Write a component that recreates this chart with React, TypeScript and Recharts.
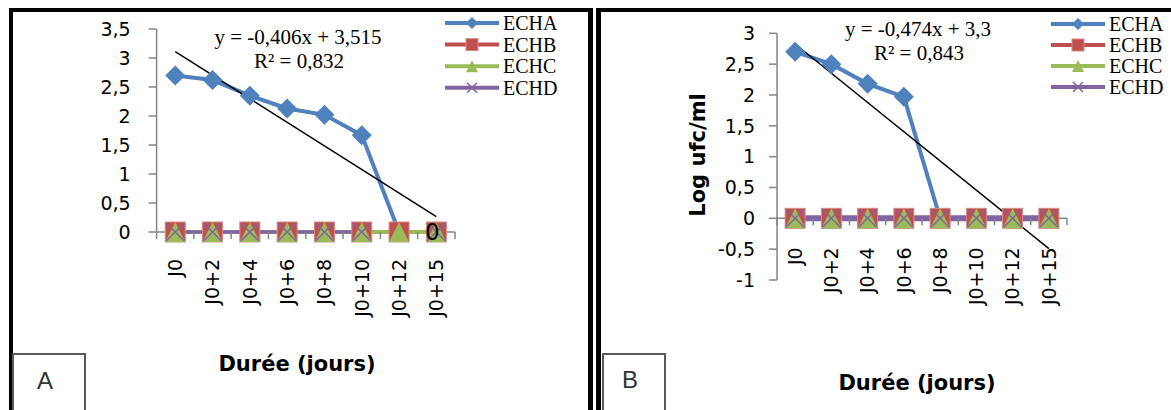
import { LineChart, Line, XAxis, YAxis, ReferenceLine } from 'recharts';

const categories = ['J0', 'J0+2', 'J0+4', 'J0+6', 'J0+8', 'J0+10', 'J0+12', 'J0+15'];
const seriesNames = ['ECHA', 'ECHB', 'ECHC', 'ECHD'];

// panel A
const echaA = [2.7, 2.62, 2.35, 2.13, 2.02, 1.67, 0, 0];
const echbA = [0, 0, 0, 0, 0, 0, 0, 0];
const echcA = [0, 0, 0, 0, 0, 0, 0, 0];
const echdA: (number | null)[] = [0, 0, 0, 0, 0, 0, null, 0];
const trendA = { slope: -0.406, intercept: 3.515, r2: 0.832 };
const yTicksA = [0, 0.5, 1, 1.5, 2, 2.5, 3, 3.5];

// panel B
const echaB = [2.7, 2.5, 2.18, 1.97, 0, 0, 0, 0];
const echbB = [0, 0, 0, 0, 0, 0, 0, 0];
const echcB = [0, 0, 0, 0, 0, 0, 0, 0];
const echdB = [0, 0, 0, 0, 0, 0, 0, 0];
const trendB = { slope: -0.474, intercept: 3.3, r2: 0.843 };
const yTicksB = [-1, -0.5, 0, 0.5, 1, 1.5, 2, 2.5, 3];

const COLORS: Record<string, string> = {
  ECHA: '#4F81BD',
  ECHB: '#C0504D',
  ECHC: '#9BBB59',
  ECHD: '#8064A2',
};
const AXIS = '#868686';
const SANS = '"DejaVu Sans", sans-serif';
const SERIF = '"Liberation Serif", "Times New Roman", serif';

const toRows = (a: number[], b: number[], c: number[], d: (number | null)[]) =>
  categories.map((cat, i) => ({ cat, ECHA: a[i], ECHB: b[i], ECHC: c[i], ECHD: d[i] }));

const dataA = toRows(echaA, echbA, echcA, echdA);
const dataB = toRows(echaB, echbB, echcB, echdB);

const fmt = (v: number) => String(v).replace('.', ',');

// markers
const marker = (name: string, cx: number, cy: number, s: number, key?: string) => {
  const color = COLORS[name];
  if (name === 'ECHA')
    return <polygon key={key} points={`${cx},${cy - s} ${cx + s},${cy} ${cx},${cy + s} ${cx - s},${cy}`} fill={color} />;
  if (name === 'ECHB')
    return <rect key={key} x={cx - s} y={cy - s} width={s * 2} height={s * 2} fill={color} stroke="#d48a88" strokeWidth={1} />;
  if (name === 'ECHC')
    return <polygon key={key} points={`${cx},${cy - s} ${cx + s},${cy + s} ${cx - s},${cy + s}`} fill={color} />;
  return (
    <g key={key}>
      <line x1={cx - s} y1={cy - s} x2={cx + s} y2={cy + s} stroke={color} strokeWidth={1.5} />
      <line x1={cx - s} y1={cy + s} x2={cx + s} y2={cy - s} stroke={color} strokeWidth={1.5} />
    </g>
  );
};

const dotFor = (name: string, s: number) => (props: any) => {
  const { cx, cy, index } = props;
  if (cx == null || cy == null || Number.isNaN(cy)) return <g key={`${name}-${index}`} />;
  return marker(name, cx, cy, s, `${name}-${index}`);
};

// x tick: axis segment + boundary tick marks + rotated label, drawn at the zero line
const makeXTick = (shift: number, band: number, gap: number) => (props: any) => {
  const { x, y, payload, index } = props;
  const ay = y - shift;
  const ly = ay + gap;
  return (
    <g>
      <line x1={x - band / 2} x2={x - band / 2} y1={ay} y2={ay + 7} stroke={AXIS} strokeWidth={1.5} />
      {index === categories.length - 1 && (
        <line x1={x + band / 2} x2={x + band / 2} y1={ay} y2={ay + 7} stroke={AXIS} strokeWidth={1.5} />
      )}
      <text
        x={x}
        y={ly}
        transform={`rotate(-90 ${x} ${ly})`}
        textAnchor="end"
        dy="0.36em"
        fontFamily={SANS}
        fontSize={19}
        fill="#000"
      >
        {payload.value}
      </text>
    </g>
  );
};

const yTickStyle = { fontFamily: SANS, fontSize: 19, fill: '#000' };

// geometry
const A = { w: 600, h: 410, top: 29, bottom: 148, left: 96.6, right: 145 };
const plotWA = A.w - A.left - 60 - A.right;
const bandA = plotWA / categories.length;

const B = { w: 581, h: 410, top: 33.3, bottom: 100, left: 127, right: 104 };
const plotWB = B.w - B.left - 60 - B.right;
const plotHB = B.h - B.top - B.bottom - 30;
const bandB = plotWB / categories.length;
const yMinB = yTicksB[0];
const yMaxB = yTicksB[yTicksB.length - 1];
const zeroShiftB = (plotHB * (0 - yMinB)) / (yMaxB - yMinB);

const trendSegment = (t: { slope: number; intercept: number }) => [
  { x: categories[0], y: t.intercept + t.slope * 1 },
  { x: categories[categories.length - 1], y: t.intercept + t.slope * categories.length },
];

const ZeroLabel = (props: any) => {
  const { x, y, index } = props;
  if (index !== categories.length - 1 || y == null) return null;
  return (
    <text x={x - 4} y={y} dy="0.36em" textAnchor="middle" fontFamily={SANS} fontSize={23} fill="#000">
      0
    </text>
  );
};

const LegendBlock = ({ x, y, gap }: { x: number; y: number; gap: number }) => (
  <g>
    {seriesNames.map((name, i) => {
      const cy = y + i * gap;
      return (
        <g key={name}>
          <line x1={x} x2={x + 54} y1={cy} y2={cy} stroke={COLORS[name]} strokeWidth={4} />
          {marker(name, x + 27, cy, name === 'ECHD' ? 5 : 6)}
          <text x={x + 58} y={cy} dy="0.35em" fontFamily={SERIF} fontSize={20} fill="#000">
            {name}
          </text>
        </g>
      );
    })}
  </g>
);

const Equation = ({ x, y, t }: { x: number; y: number; t: { slope: number; intercept: number; r2: number } }) => (
  <g fontFamily={SERIF} fontSize={21} fill="#000" textAnchor="middle">
    <text x={x} y={y} dy="0.35em">{`y = ${fmt(t.slope)}x + ${fmt(t.intercept)}`}</text>
    <text x={x + 1} y={y + 24} dy="0.35em">{`R² = ${fmt(t.r2)}`}</text>
  </g>
);

export default function App() {
  return (
    <div
      style={{
        position: 'absolute',
        left: 0,
        top: 0,
        width: 1171,
        height: 410,
        overflow: 'hidden',
        background: '#fff',
      }}
    >
      {/* panel frames */}
      <div
        style={{
          position: 'absolute',
          left: 9,
          top: 8,
          width: 584,
          height: 420,
          boxSizing: 'border-box',
          borderLeft: '4px solid #000',
          borderTop: '4px solid #000',
          borderRight: '5px solid #000',
        }}
      />
      <div
        style={{
          position: 'absolute',
          left: 596,
          top: 8,
          width: 600,
          height: 420,
          boxSizing: 'border-box',
          borderLeft: '5px solid #000',
          borderTop: '4px solid #000',
        }}
      />
      <div
        style={{
          position: 'absolute',
          left: 12,
          top: 353,
          width: 74,
          height: 70,
          boxSizing: 'border-box',
          border: '2px solid #5a5a5a',
        }}
      />
      <div
        style={{
          position: 'absolute',
          left: 602,
          top: 353,
          width: 64,
          height: 70,
          boxSizing: 'border-box',
          border: '2px solid #5a5a5a',
        }}
      />

      {/* chart A */}
      <div style={{ position: 'absolute', left: 0, top: 0 }}>
        <LineChart
          width={A.w}
          height={A.h}
          data={dataA}
          margin={{ top: A.top, right: A.right, bottom: A.bottom, left: A.left }}
        >
          <XAxis
            dataKey="cat"
            interval={0}
            height={30}
            padding={{ left: bandA / 2, right: bandA / 2 }}
            axisLine={false}
            tickLine={false}
            tickSize={0}
            tickMargin={0}
            tick={makeXTick(0, bandA, 27)}
          />
          <YAxis
            width={60}
            domain={[0, 3.5]}
            ticks={yTicksA}
            interval={0}
            tickFormatter={fmt}
            axisLine={{ stroke: AXIS, strokeWidth: 1.5 }}
            tickLine={{ stroke: AXIS, strokeWidth: 1.5 }}
            tickSize={8}
            tickMargin={18}
            tick={yTickStyle}
          />
          <ReferenceLine y={0} stroke={AXIS} strokeWidth={1.5} zIndex={0} />
          <Line type="linear" dataKey="ECHA" stroke={COLORS.ECHA} strokeWidth={4} dot={dotFor('ECHA', 10)} isAnimationActive={false} />
          <Line type="linear" dataKey="ECHB" stroke={COLORS.ECHB} strokeWidth={4} dot={dotFor('ECHB', 10)} isAnimationActive={false} />
          <Line type="linear" dataKey="ECHC" stroke={COLORS.ECHC} strokeWidth={4} dot={dotFor('ECHC', 10)} isAnimationActive={false} />
          <Line
            type="linear"
            dataKey="ECHD"
            stroke={COLORS.ECHD}
            strokeWidth={3.5}
            dot={dotFor('ECHD', 9)}
            label={ZeroLabel}
            isAnimationActive={false}
          />
          <ReferenceLine segment={trendSegment(trendA)} stroke="#000" strokeWidth={1.5} ifOverflow="visible" />
        </LineChart>
      </div>

      {/* chart B */}
      <div style={{ position: 'absolute', left: 590, top: 0 }}>
        <LineChart
          width={B.w}
          height={B.h}
          data={dataB}
          margin={{ top: B.top, right: B.right, bottom: B.bottom, left: B.left }}
        >
          <XAxis
            dataKey="cat"
            interval={0}
            height={30}
            padding={{ left: bandB / 2, right: bandB / 2 }}
            axisLine={false}
            tickLine={false}
            tickSize={0}
            tickMargin={0}
            tick={makeXTick(zeroShiftB, bandB, 29)}
          />
          <YAxis
            width={60}
            domain={[yMinB, yMaxB]}
            ticks={yTicksB}
            interval={0}
            tickFormatter={fmt}
            axisLine={{ stroke: AXIS, strokeWidth: 1.5 }}
            tickLine={{ stroke: AXIS, strokeWidth: 1.5 }}
            tickSize={8}
            tickMargin={14}
            tick={yTickStyle}
          />
          <ReferenceLine y={0} stroke={AXIS} strokeWidth={1.5} zIndex={0} />
          <Line type="linear" dataKey="ECHA" stroke={COLORS.ECHA} strokeWidth={4} dot={dotFor('ECHA', 10)} isAnimationActive={false} />
          <Line type="linear" dataKey="ECHB" stroke={COLORS.ECHB} strokeWidth={4} dot={dotFor('ECHB', 10)} isAnimationActive={false} />
          <Line type="linear" dataKey="ECHC" stroke={COLORS.ECHC} strokeWidth={4} dot={dotFor('ECHC', 10)} isAnimationActive={false} />
          <Line type="linear" dataKey="ECHD" stroke={COLORS.ECHD} strokeWidth={6} dot={dotFor('ECHD', 9)} isAnimationActive={false} />
          <ReferenceLine segment={trendSegment(trendB)} stroke="#000" strokeWidth={1.5} ifOverflow="visible" />
        </LineChart>
      </div>

      {/* legends, equations, titles */}
      <svg
        width={1171}
        height={410}
        style={{ position: 'absolute', left: 0, top: 0, pointerEvents: 'none' }}
      >
        <LegendBlock x={445} y={23} gap={21.6} />
        <LegendBlock x={1051} y={24} gap={21} />
        <Equation x={298} y={37} t={trendA} />
        <Equation x={918} y={29} t={trendB} />
        <text x={297} y={364} dy="0.35em" textAnchor="middle" fontFamily={SANS} fontWeight="bold" fontSize={21} fill="#000">
          Durée (jours)
        </text>
        <text x={917} y={383} dy="0.35em" textAnchor="middle" fontFamily={SANS} fontWeight="bold" fontSize={21} fill="#000">
          Durée (jours)
        </text>
        <text
          x={698}
          y={155}
          dy="0.35em"
          transform="rotate(-90 698 155)"
          textAnchor="middle"
          fontFamily={SANS}
          fontWeight="bold"
          fontSize={21}
          fill="#000"
        >
          Log ufc/ml
        </text>
        <text x={45} y={381} dy="0.35em" textAnchor="middle" fontFamily='"Liberation Sans", sans-serif' fontSize={24} fill="#333">
          A
        </text>
        <text x={630} y={380} dy="0.35em" textAnchor="middle" fontFamily='"Liberation Sans", sans-serif' fontSize={24} fill="#333">
          B
        </text>
      </svg>
    </div>
  );
}
